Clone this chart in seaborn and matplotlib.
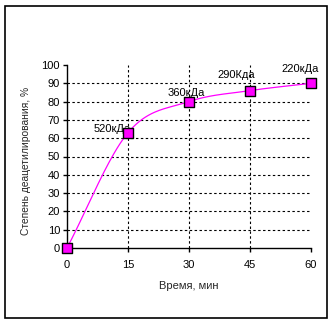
import numpy as np
import matplotlib
matplotlib.use("Agg")
import matplotlib.pyplot as plt
import seaborn as sns
from matplotlib.patches import Rectangle

sns.set_theme(style="white")
plt.rcParams["font.family"] = ["Liberation Sans", "DejaVu Sans"]

time_min = [0, 15, 30, 45, 60]
degree = [0, 63, 80, 86, 90]
labels = ["", "520кДа", "360кДа", "290Кда", "220кДа"]
x_ticks = [0, 15, 30, 45, 60]
y_ticks = list(range(0, 101, 10))


def smooth_curve(xs, ys, n=40):
    """Catmull-Rom spline through the points (Excel-style smoothed line)."""
    xs = np.asarray(xs, float)
    ys = np.asarray(ys, float)
    px = np.concatenate([[2 * xs[0] - xs[1]], xs, [2 * xs[-1] - xs[-2]]])
    py = np.concatenate([[2 * ys[0] - ys[1]], ys, [2 * ys[-1] - ys[-2]]])
    out_x, out_y = [], []
    t = np.linspace(0, 1, n)
    for i in range(1, len(px) - 2):
        for arr, out in ((px, out_x), (py, out_y)):
            p0, p1, p2, p3 = arr[i - 1], arr[i], arr[i + 1], arr[i + 2]
            out.extend(0.5 * ((2 * p1) + (-p0 + p2) * t
                              + (2 * p0 - 5 * p1 + 4 * p2 - p3) * t ** 2
                              + (-p0 + 3 * p1 - 3 * p2 + p3) * t ** 3))
    return np.array(out_x), np.array(out_y)


W, H = 335, 324
fig = plt.figure(figsize=(W / 100, H / 100), dpi=100)
fig.patch.set_facecolor("white")
fig.patches.append(Rectangle((5 / W, 6 / H), 322 / W, 312 / H, transform=fig.transFigure,
                             fill=False, edgecolor="black", linewidth=1.2))

ax = fig.add_axes([67 / W, (H - 248) / H, (311 - 67) / W, (248 - 65) / H])
ax.set_facecolor("white")

sx, sy = smooth_curve(time_min, degree)
sns.lineplot(x=sx, y=sy, ax=ax, color="#ff00ff", linewidth=0.9, sort=False, estimator=None)
sns.scatterplot(x=time_min, y=degree, ax=ax, marker="s", s=50, color="#ff00ff",
                edgecolor="black", linewidth=1.0, zorder=5, clip_on=False)

dash = (0, (2.2, 2.2))
for gy in y_ticks[1:-1]:
    ax.plot([0, 60], [gy, gy], color="black", linestyle=dash, linewidth=0.8, zorder=1)
for gx in x_ticks[1:-1]:
    ax.plot([gx, gx], [0, 100], color="black", linestyle=dash, linewidth=0.8, zorder=1)

offsets = [(0, 0), (2, 3), (-2, 6.5), (-10, 11.3), (-8, 10)]
aligns = ["center", "right", "center", "center", "center"]
for x, y, lab, (dx, dy), ha in zip(time_min, degree, labels, offsets, aligns):
    if lab:
        ax.annotate(lab, (x, y), xytext=(dx, dy), textcoords="offset points",
                    ha=ha, va="center", fontsize=8, color="black", zorder=4)

ax.set_xlim(0, 60)
ax.set_ylim(0, 100)
ax.set_xticks(x_ticks)
ax.set_yticks(y_ticks)
ax.tick_params(axis="both", direction="out", length=3, width=1, color="black",
               labelsize=8, labelcolor="black", bottom=True, left=True)
ax.tick_params(axis="x", pad=6)
ax.tick_params(axis="y", pad=2)
for side in ("top", "right"):
    ax.spines[side].set_visible(False)
for side in ("left", "bottom"):
    ax.spines[side].set_color("black")
    ax.spines[side].set_linewidth(1.0)

fig.text(189 / W, 1 - 286 / H, "Время, мин", ha="center", va="center", fontsize=8)
fig.text(26 / W, 1 - 161 / H, "Степень деацетилирования, %", ha="center", va="center",
         rotation=90, fontsize=7.4)

fig.savefig("out.png", dpi=100, facecolor="white")
